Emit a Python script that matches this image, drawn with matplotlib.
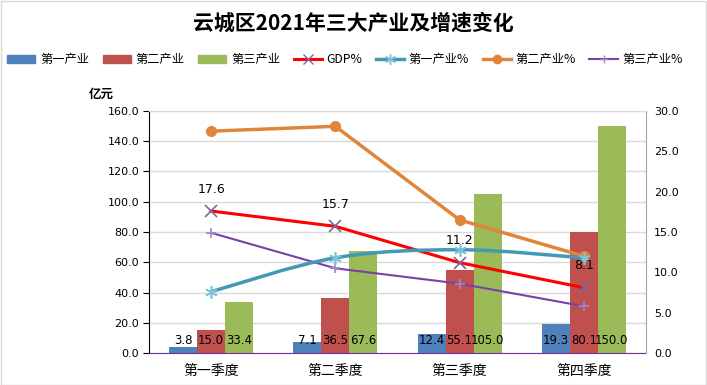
import matplotlib
matplotlib.use("Agg")
import matplotlib.pyplot as plt
from matplotlib.path import Path
from matplotlib.patches import PathPatch, Patch
from matplotlib.lines import Line2D
import numpy as np

plt.rcParams['font.family'] = ['Noto Sans CJK SC', 'DejaVu Sans']

quarters = ['第一季度', '第二季度', '第三季度', '第四季度']
primary = [3.8, 7.1, 12.4, 19.3]
secondary = [15.0, 36.5, 55.1, 80.1]
tertiary = [33.4, 67.6, 105.0, 150.0]
gdp_pct = [17.6, 15.7, 11.2, 8.1]
primary_pct = [7.6, 11.8, 12.8, 11.8]
secondary_pct = [27.5, 28.1, 16.5, 12.0]
tertiary_pct = [14.9, 10.5, 8.6, 5.8]

C_BLUE = '#4F81BD'
C_RED = '#C0504D'
C_GREEN = '#9BBB59'
C_GDP = '#FF0000'
C_TEAL = '#4299B4'
C_ORANGE = '#E0863A'
C_PURPLE = '#7A3FAA'

fig = plt.figure(figsize=(7.07, 3.85), dpi=100)
ax = fig.add_axes([0.2107, 0.0831, 0.703, 0.6286])
ax2 = ax.twinx()

x = np.arange(len(quarters))
w = 0.225
for i, (vals, c) in enumerate([(primary, C_BLUE), (secondary, C_RED), (tertiary, C_GREEN)]):
    ax.bar(x + (i - 1) * w, vals, width=w, color=c, zorder=2)
    for xi, v in zip(x + (i - 1) * w, vals):
        ax.text(xi, 4.0, f'{v:.1f}', ha='center', va='bottom', fontsize=8.5,
                family='DejaVu Sans', zorder=5)

ax.set_ylim(0, 160)
ax.set_yticks(np.arange(0, 161, 20))
ax.set_yticklabels([f'{v:.1f}' for v in np.arange(0, 161, 20)], fontsize=8, family='DejaVu Sans')
ax.set_xlim(-0.5, 3.5)
ax.set_xticks(x)
ax.set_xticklabels(quarters, fontsize=10)
ax.tick_params(axis='x', length=0, pad=8)
ax.tick_params(axis='y', length=4, direction='out', pad=3)
ax.grid(axis='y', color='#D9D9D9', linewidth=1, zorder=0)
ax.set_axisbelow(True)
for s in ['top', 'right']:
    ax.spines[s].set_visible(False)
ax.spines['left'].set_color('black')
ax.spines['bottom'].set_color('#7030A0')

ax2.set_ylim(0, 30)
ax2.set_yticks(np.arange(0, 31, 5))
ax2.set_yticklabels([f'{v:.1f}' for v in np.arange(0, 31, 5)], fontsize=8, family='DejaVu Sans')
ax2.tick_params(axis='y', length=0, pad=6)
for s in ['left', 'bottom']:
    ax2.spines[s].set_visible(False)
ax2.spines['right'].set_color('#A6A6A6')
ax2.spines['top'].set_visible(True)
ax2.spines['top'].set_color('#D9D9D9')

# Lines
ax2.plot(x, secondary_pct, color=C_ORANGE, lw=2.5, marker='o', ms=7, zorder=4)
ax2.plot(x, gdp_pct, color=C_GDP, lw=2.2, marker='x', ms=8, mec='#8064A2', mew=1.2, zorder=4)
ax2.plot(x, tertiary_pct, color=C_PURPLE, lw=1.5, marker='+', ms=7, mec='#9B8AC4', mew=1.2, zorder=4)

# smooth line for primary_pct (bezier through the data points)
pts = np.column_stack([x, primary_pct]).astype(float)
verts = [tuple(pts[0])]
codes = [Path.MOVETO]
for i in range(len(pts) - 1):
    p0 = pts[i - 1] if i > 0 else pts[i]
    p1 = pts[i]
    p2 = pts[i + 1]
    p3 = pts[i + 2] if i + 2 < len(pts) else pts[i + 1]
    c1 = p1 + (p2 - p0) / 6.0
    c2 = p2 - (p3 - p1) / 6.0
    verts += [tuple(c1), tuple(c2), tuple(p2)]
    codes += [Path.CURVE4] * 3
ax2.add_patch(PathPatch(Path(verts, codes), facecolor='none', edgecolor=C_TEAL, lw=2.5, zorder=4))
ax2.plot(x, primary_pct, ls='none', marker=(6, 2, 0), ms=9, mec='#7FC3D9', mew=1.2, zorder=4)

for xi, v in zip(x, gdp_pct):
    ax2.annotate(f'{v:.1f}', (xi, v), xytext=(0, 11), textcoords='offset points',
                 ha='center', va='bottom', fontsize=9, family='DejaVu Sans', zorder=6)

fig.text(0.5, 0.94, '云城区2021年三大产业及增速变化', ha='center', va='center',
         fontsize=15, fontweight='bold')
fig.text(0.143, 0.755, '亿元', ha='center', va='center', fontsize=9, fontweight='bold')

handles = [
    Patch(color=C_BLUE), Patch(color=C_RED), Patch(color=C_GREEN),
    Line2D([], [], color=C_GDP, lw=2.2, marker='x', ms=7, mec='#8064A2'),
    Line2D([], [], color=C_TEAL, lw=2.5, marker=(6, 2, 0), ms=8, mec='#7FC3D9'),
    Line2D([], [], color=C_ORANGE, lw=2.5, marker='o', ms=6),
    Line2D([], [], color=C_PURPLE, lw=1.5, marker='+', ms=6, mec='#9B8AC4'),
]
labels = ['第一产业', '第二产业', '第三产业', 'GDP%', '第一产业%', '第二产业%', '第三产业%']
fig.legend(handles, labels, loc='center', bbox_to_anchor=(0.488, 0.845), ncol=7,
           frameon=False, fontsize=8.8, handlelength=2.3, handletextpad=0.4,
           columnspacing=1.1, handleheight=0.6)

fig.patches.append(plt.Rectangle((0.001, 0.001), 0.997, 0.997, transform=fig.transFigure,
                                 fill=False, edgecolor='#D9D9D9', lw=1))

fig.savefig('out.png', dpi=100)
